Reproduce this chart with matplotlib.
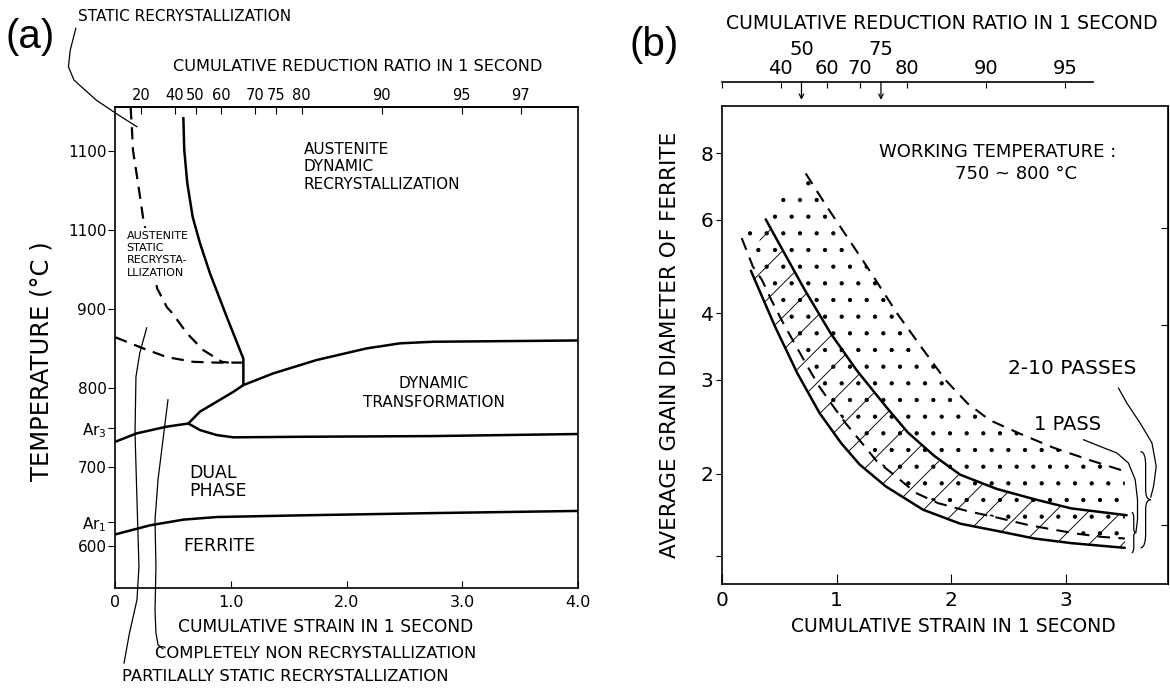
import numpy as np
import matplotlib
matplotlib.use("Agg")
import matplotlib.pyplot as plt
from matplotlib.path import Path
from matplotlib.patches import PathPatch, Polygon
from matplotlib.ticker import NullLocator
from matplotlib.transforms import blended_transform_factory

plt.rcParams['font.family'] = ['DejaVu Sans']
plt.rcParams['hatch.linewidth'] = 0.65

# ---------------- (a) processing map: strain vs temperature ----------------
red_ticks_a = [20, 40, 50, 60, 70, 75, 80, 90, 95, 97]
strain_ticks_a = [0, 1, 2, 3, 4]
strain_labels_a = ['0', '1.0', '2.0', '3.0', '4.0']
temp_ticks = [600, 630, 700, 749, 800, 900, 1000, 1100]
temp_labels = ['600', 'Ar$_1$', '700', 'Ar$_3$', '800', '900', '1100', '1100']

# static / dynamic recrystallization boundary (solid)
bound_eps = [0.587, 0.595, 0.621, 0.668, 0.731, 0.817, 0.962, 1.106, 1.106]
bound_T = [1141, 1101, 1059, 1016, 983, 945, 890, 837, 804]
# end of static recrystallization (dashed)
static_eps = [0.131, 0.143, 0.151, 0.195, 0.238, 0.36, 0.445, 0.489, 0.619, 0.757, 0.921, 0.98]
static_T = [1155, 1126, 1101, 1059, 1016, 926, 902, 895, 869, 848, 833, 832]
# non recrystallization limit (dashed)
nonrex_eps = [0.0, 0.24, 0.443, 0.673, 0.875, 1.106]
nonrex_T = [864, 850, 839, 833, 832, 832]
# Ar3 line and the two branches of dynamic transformation
ar3_eps = [0.0, 0.183, 0.443, 0.63]
ar3_T = [732, 742.5, 751, 755]
dt_up_eps = [0.63, 0.731, 0.875, 1.019, 1.106, 1.365, 1.74, 2.173, 2.461, 2.749, 4.0]
dt_up_T = [755, 770, 782.5, 795, 803.6, 818.4, 835.3, 850, 856.4, 858.4, 860]
dt_lo_eps = [0.63, 0.731, 0.875, 1.019, 1.596, 2.749, 4.0]
dt_lo_T = [755, 746.7, 740.4, 737.5, 738.2, 739.1, 741.7]
# Ar1 line
ar1_eps = [0.0, 0.298, 0.587, 0.875, 1.596, 2.749, 4.0]
ar1_T = [614.8, 626.2, 633.4, 636.7, 638.8, 641.7, 644.4]
# leader lines
partial_eps = [0.27, 0.21, 0.177, 0.169, 0.186, 0.203, 0.186, 0.121, 0.074]
partial_T = [876, 844, 814, 743, 658, 574, 532, 490, 452]
complete_eps = [0.454, 0.368, 0.342, 0.350, 0.342, 0.350, 0.368, 0.411]
complete_T = [785, 684, 633, 574, 519, 490, 475, 470]
static_lead_eps = [-0.343, -0.391, -0.407, -0.359, -0.167, 0.025, 0.185]
static_lead_T = [1254.8, 1227.4, 1206.3, 1189.4, 1164.1, 1145.2, 1130.4]

# ---------------- (b) ferrite grain size vs strain ----------------
red_ticks_b = [40, 60, 70, 80, 90, 95]
red_arrows_b = [50, 75]
strain_ticks_b = [0, 1, 2, 3]
d_ticks = [1.4, 2, 3, 4, 6, 8]
d_labels = ['', '2', '3', '4', '6', '8']
d_ticks_right = [1.6, 3.8, 5.8]

# 2-10 passes band (dashed bounds, dotted)
multi_hi_eps = [0.730, 0.914, 1.108, 1.302, 1.527, 1.754, 1.948, 2.141, 2.335, 2.592, 2.883, 3.206, 3.513]
multi_hi_d = [7.33, 6.35, 5.50, 4.76, 4.00, 3.42, 3.00, 2.71, 2.52, 2.38, 2.24, 2.12, 2.02]
multi_lo_eps = [0.172, 0.269, 0.349, 0.430, 0.527, 0.640, 0.753, 0.850, 0.962, 1.076, 1.350, 1.511,
                1.689, 1.883, 2.141, 2.415, 2.674, 2.883, 3.109, 3.319, 3.513]
multi_lo_d = [5.54, 4.90, 4.62, 4.24, 3.86, 3.49, 3.16, 2.91, 2.69, 2.49, 2.11, 1.98,
              1.84, 1.76, 1.70, 1.65, 1.60, 1.57, 1.54, 1.52, 1.51]
# 1 pass band (solid bounds, hatched)
one_hi_eps = [0.381, 0.527, 0.721, 0.947, 1.173, 1.431, 1.62, 1.85, 2.077, 2.400, 2.723, 3.045, 3.529]
one_hi_d = [6.01, 5.27, 4.43, 3.67, 3.13, 2.67, 2.39, 2.16, 1.99, 1.87, 1.79, 1.72, 1.67]
one_lo_eps = [0.252, 0.462, 0.656, 0.850, 1.04, 1.20, 1.431, 1.754, 2.077, 2.400, 2.723, 3.045, 3.513]
one_lo_d = [4.81, 3.78, 3.09, 2.60, 2.28, 2.08, 1.89, 1.71, 1.61, 1.56, 1.51, 1.48, 1.45]
# braces and leaders at the right end
one_brace = (3.573, 3.61, 1.42, 1.69)
multi_brace = (3.65, 3.74, 1.45, 2.20)
one_lead_eps = [3.153, 3.298, 3.444, 3.545, 3.604, 3.624, 3.624, 3.61]
one_lead_d = [2.315, 2.249, 2.186, 2.093, 1.947, 1.786, 1.638, 1.55]
multi_lead_eps = [3.458, 3.531, 3.647, 3.750, 3.787, 3.764, 3.74]
multi_lead_d = [2.895, 2.713, 2.488, 2.283, 2.063, 1.892, 1.806]


def eps_of(r):
    r = np.clip(np.asarray(r, float), -1e6, 99.999)
    return -np.log(1 - r / 100.0)


def red_of(e):
    return 100.0 * (1 - np.exp(-np.asarray(e, float)))


def curly(ax, x0, x1, lo, hi, lw=0.9):
    # "}" shaped brace, arms at x0, tip at x1, spanning lo..hi on a log axis
    f = lambda t: np.exp(np.log(lo) + t * (np.log(hi) - np.log(lo)))
    xm = 0.5 * (x0 + x1)
    verts = [(x0, hi), (xm, hi), (xm, f(0.85)), (xm, f(0.6)), (xm, f(0.5)), (x1, f(0.5)),
             (xm, f(0.5)), (xm, f(0.4)), (xm, f(0.15)), (xm, lo), (x0, lo)]
    codes = [Path.MOVETO, Path.CURVE3, Path.CURVE3, Path.LINETO, Path.CURVE3, Path.CURVE3,
             Path.CURVE3, Path.CURVE3, Path.LINETO, Path.CURVE3, Path.CURVE3]
    ax.add_patch(PathPatch(Path(verts, codes), fill=False, lw=lw, clip_on=False))


fig = plt.figure(figsize=(11.7, 6.89), dpi=100)
ax_a = fig.add_axes([0.0987, 0.1470, 0.3953, 0.6977])
ax_b = fig.add_axes([0.6171, 0.1524, 0.3812, 0.6943])

thick = 1.8
thin = 0.9
dash_a = (0, (5.5, 3.5))

# ---- panel (a) ----
ax_a.plot(bound_eps, bound_T, color='k', lw=thick, solid_joinstyle='round')
ax_a.plot(static_eps, static_T, color='k', lw=1.6, ls=dash_a)
ax_a.plot(nonrex_eps, nonrex_T, color='k', lw=1.6, ls=dash_a)
for xs, ys in [(ar3_eps, ar3_T), (dt_up_eps, dt_up_T), (dt_lo_eps, dt_lo_T), (ar1_eps, ar1_T)]:
    ax_a.plot(xs, ys, color='k', lw=thick, solid_joinstyle='round', solid_capstyle='round')
for xs, ys in [(partial_eps, partial_T), (complete_eps, complete_T), (static_lead_eps, static_lead_T)]:
    ax_a.plot(xs, ys, color='k', lw=thin, clip_on=False)

ax_a.set_xlim(0, 4)
ax_a.set_ylim(547.3, 1155.3)
ax_a.set_xticks(strain_ticks_a, strain_labels_a)
ax_a.set_yticks(temp_ticks, temp_labels)
ax_a.tick_params(axis='x', direction='in', length=5, pad=5, labelsize=11.5)
ax_a.tick_params(axis='y', direction='out', length=5, pad=1.5, labelsize=11)
for s in ax_a.spines.values():
    s.set_linewidth(1.2)

sec_a = ax_a.secondary_xaxis('top', functions=(red_of, eps_of))
sec_a.set_xticks(red_ticks_a)
sec_a.tick_params(direction='in', length=5, pad=3, labelsize=10.5)
sec_a.spines['top'].set_linewidth(1.2)

ax_a.set_xlabel('CUMULATIVE STRAIN IN 1 SECOND', fontsize=12.3)
ax_a.xaxis.set_label_coords(0.4539, -0.0811)
ax_a.xaxis.label.set_va('center')
ax_a.set_ylabel('TEMPERATURE (°C )', fontsize=17.5)
ax_a.yaxis.set_label_coords(-0.159, 0.4716)
ax_a.yaxis.label.set_va('center')
ax_a.text(0.5235, 1.0838, 'CUMULATIVE REDUCTION RATIO IN 1 SECOND', transform=ax_a.transAxes,
          ha='center', va='center', fontsize=11.6)

ax_a.text(1.63, 1079.8, 'AUSTENITE\nDYNAMIC\nRECRYSTALLIZATION', ha='left', va='center', fontsize=11)
ax_a.text(0.097, 969, 'AUSTENITE\nSTATIC\nRECRYSTA-\nLLIZATION', ha='left', va='center',
          fontsize=8, linespacing=1.3, zorder=4,
          bbox=dict(facecolor='white', edgecolor='none', pad=2))
ax_a.text(2.75, 794, 'DYNAMIC\nTRANSFORMATION', ha='center', va='center', fontsize=11,
          linespacing=1.35, multialignment='center')
ax_a.text(0.636, 681, 'DUAL\nPHASE', ha='left', va='center', fontsize=12.5, linespacing=0.95)
ax_a.text(0.587, 600.4, 'FERRITE', ha='left', va='center', fontsize=12.5)
ax_a.text(0.342, 464.7, 'COMPLETELY NON RECRYSTALLIZATION', ha='left', va='center', fontsize=11.8)
ax_a.text(0.056, 435.5, 'PARTILALLY STATIC RECRYSTALLIZATION', ha='left', va='center', fontsize=11.8)

fig.text(78 / 1170, 1 - 16.7 / 689, 'STATIC RECRYSTALLIZATION', ha='left', va='center', fontsize=11)
fig.text(30.5 / 1170, 1 - 36.7 / 689, '(a)', ha='center', va='center', fontsize=29,
         family='Liberation Sans')
fig.text(654 / 1170, 1 - 45 / 689, '(b)', ha='center', va='center', fontsize=29,
         family='Liberation Sans')

# ---- panel (b) ----
ax_b.set_yscale('log')
band_one = np.column_stack([one_lo_eps + one_hi_eps[::-1], one_lo_d + one_hi_d[::-1]])
band_multi = np.column_stack([multi_lo_eps + multi_hi_eps[::-1], multi_lo_d + multi_hi_d[::-1]])
ax_b.add_patch(Polygon(band_multi, closed=True, fill=False, hatch='.', edgecolor='k', lw=0))
ax_b.add_patch(Polygon(band_one, closed=True, fill=False, hatch='/', edgecolor='k', lw=0))

dash_b = (0, (6, 4))
ax_b.plot(multi_hi_eps, multi_hi_d, color='k', lw=1.5, ls=dash_b)
ax_b.plot(multi_lo_eps, multi_lo_d, color='k', lw=1.5, ls=dash_b)
ax_b.plot(one_hi_eps, one_hi_d, color='k', lw=thick, solid_capstyle='round', solid_joinstyle='round')
ax_b.plot(one_lo_eps, one_lo_d, color='k', lw=thick, solid_capstyle='round', solid_joinstyle='round')
curly(ax_b, *one_brace)
curly(ax_b, *multi_brace)
ax_b.plot(one_lead_eps, one_lead_d, color='k', lw=thin, clip_on=False)
ax_b.plot(multi_lead_eps, multi_lead_d, color='k', lw=thin, clip_on=False)

ax_b.set_xlim(0, 3.89)
ax_b.set_ylim(1.24, 9.83)
ax_b.set_xticks(strain_ticks_b, [str(v) for v in strain_ticks_b])
ax_b.set_yticks(d_ticks, d_labels)
ax_b.yaxis.set_minor_locator(NullLocator())
ax_b.tick_params(axis='x', direction='in', length=7, pad=5, labelsize=14.5)
ax_b.tick_params(axis='y', direction='out', length=4, pad=2, labelsize=14.5)
for s in ax_b.spines.values():
    s.set_linewidth(1.2)

sec_r = ax_b.secondary_yaxis('right')
sec_r.set_yticks(d_ticks_right, ['' for _ in d_ticks_right])
sec_r.yaxis.set_minor_locator(NullLocator())
sec_r.tick_params(direction='in', length=5)

top_scale = ax_b.secondary_xaxis(1.05, functions=(red_of, eps_of))
top_scale.set_xticks([0] + red_ticks_b, [''] + [str(v) for v in red_ticks_b])
top_scale.tick_params(direction='in', length=4, pad=3, labelsize=14)
top_scale.spines['top'].set_bounds(0, red_of(3.24))
top_scale.spines['top'].set_linewidth(1.2)

arrow_scale = ax_b.secondary_xaxis(1.05, functions=(red_of, eps_of))
arrow_scale.set_xticks(red_arrows_b)
arrow_scale.tick_params(length=0, pad=16, labelsize=14)
arrow_scale.spines['top'].set_visible(False)

blend = blended_transform_factory(ax_b.transData, ax_b.transAxes)
for r in red_arrows_b:
    ax_b.annotate('', xy=(eps_of(r), 1.012), xytext=(eps_of(r), 1.05), xycoords=blend,
                  textcoords=blend,
                  arrowprops=dict(arrowstyle='->', lw=0.9, color='k', shrinkA=0, shrinkB=0,
                                  mutation_scale=8))

ax_b.text(0.492, 1.172, 'CUMULATIVE REDUCTION RATIO IN 1 SECOND', transform=ax_b.transAxes,
          ha='center', va='center', fontsize=13.6)
ax_b.set_xlabel('CUMULATIVE STRAIN IN 1 SECOND', fontsize=13.5)
ax_b.xaxis.set_label_coords(0.519, -0.0893)
ax_b.xaxis.label.set_va('center')
ax_b.set_ylabel('AVERAGE GRAIN DIAMETER OF FERRITE', fontsize=15.5)
ax_b.yaxis.set_label_coords(-0.1166, 0.5)
ax_b.yaxis.label.set_va('center')

ax_b.text(1.368, 8.05, 'WORKING TEMPERATURE :', ha='left', va='center', fontsize=13)
ax_b.text(2.568, 7.3, '750 ~ 800 °C', ha='center', va='center', fontsize=13)
ax_b.text(2.496, 3.157, '2-10 PASSES', ha='left', va='center', fontsize=14.5)
ax_b.text(2.723, 2.47, '1 PASS', ha='left', va='center', fontsize=14)

fig.savefig('out.png', dpi=100, facecolor='white')
